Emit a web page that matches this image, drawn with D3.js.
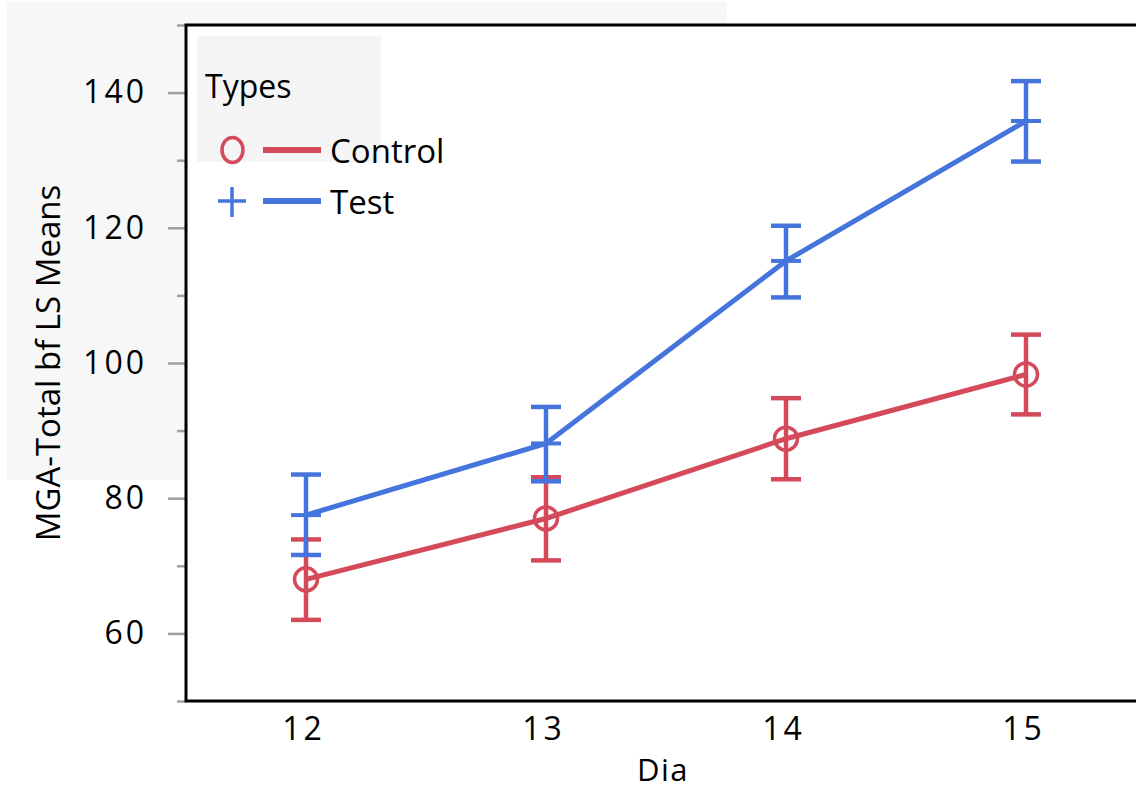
<!DOCTYPE html>
<html><head><meta charset="utf-8">
<script src="https://cdn.jsdelivr.net/npm/d3@7"></script>
<style>body{margin:0;background:#fff;} svg{display:block;} text{font-family:"Open Sans",sans-serif;fill:#000;}</style>
</head><body>
<svg id="chart" width="1136" height="790"></svg>
<script>
const days = [12, 13, 14, 15];
const seriesNames = ["Control", "Test"];
const controlMean = [68.0, 77.0, 88.8, 98.3];
const controlLow  = [62.0, 70.8, 82.8, 92.4];
const controlHigh = [73.9, 83.1, 94.8, 104.2];
const testMean = [77.5, 88.1, 115.1, 135.8];
const testLow  = [71.6, 82.5, 109.7, 129.8];
const testHigh = [83.5, 93.5, 120.3, 141.7];
const yMajorTicks = [60, 80, 100, 120, 140];
const yMinorTicks = [50, 70, 90, 110, 130, 150];
const colors = {Control: "#d44a5a", Test: "#4574dd"};

const svg = d3.select("#chart");
const L = 186, R = 1146, T = 25, B = 701;
const x = d3.scaleLinear().domain([11.5, 15.5]).range([L, R]);
const y = d3.scaleLinear().domain([50, 150]).range([B, T]);

// background panels
svg.append("rect").attr("x", 7).attr("y", 2).attr("width", 720).attr("height", 478).attr("fill", "#f7f7f7");
svg.append("rect").attr("x", L).attr("y", T).attr("width", R - L).attr("height", B - T).attr("fill", "#fff");
svg.append("rect").attr("x", 197).attr("y", 36).attr("width", 184).attr("height", 126).attr("fill", "#f5f5f5");

// y axis ticks
const yMajor = d3.axisLeft(y).tickValues(yMajorTicks).tickSize(18).tickPadding(21).tickFormat(d3.format("d"));
const gy = svg.append("g").attr("transform", `translate(${L},0)`).call(yMajor);
gy.select(".domain").remove();
gy.selectAll(".tick line").attr("stroke", "#a0a0a0").attr("stroke-width", 2.5);
gy.selectAll(".tick text").style("font-size", "32px").style("letter-spacing", "3px").attr("fill", "#000");
const yMinor = d3.axisLeft(y).tickValues(yMinorTicks).tickSize(9).tickFormat("");
const gy2 = svg.append("g").attr("transform", `translate(${L},0)`).call(yMinor);
gy2.select(".domain").remove();
gy2.selectAll(".tick line").attr("stroke", "#a0a0a0").attr("stroke-width", 2.5);

// x axis labels
const gx = svg.append("g").attr("transform", `translate(0,${B})`)
  .call(d3.axisBottom(x).tickValues(days).tickSize(0).tickPadding(16).tickFormat(d3.format("d")));
gx.select(".domain").remove();
gx.selectAll(".tick text").style("font-size", "32px").style("letter-spacing", "3px").attr("dx", "-3px").attr("fill", "#000");

// frame
svg.append("path").attr("d", `M${R},${T}H${L}V${B}H${R}`).attr("fill", "none").attr("stroke", "#000").attr("stroke-width", 3);

// axis titles
svg.append("text").attr("x", 663).attr("y", 781).attr("text-anchor", "middle").style("font-size", "31px").style("letter-spacing", "1.5px").text("Dia");
svg.append("text").attr("transform", `translate(60,${(T + B) / 2}) rotate(-90)`).attr("text-anchor", "middle").style("font-size", "33px").text("MGA-Total bf LS Means");

const data = {
  Control: days.map((d, i) => ({d, m: controlMean[i], lo: controlLow[i], hi: controlHigh[i]})),
  Test: days.map((d, i) => ({d, m: testMean[i], lo: testLow[i], hi: testHigh[i]}))
};
const line = d3.line().x(p => x(p.d)).y(p => y(p.m));
const capW = 15;

seriesNames.forEach(name => {
  const c = colors[name];
  const g = svg.append("g");
  data[name].forEach(p => {
    const px = x(p.d);
    g.append("line").attr("x1", px).attr("x2", px).attr("y1", y(p.hi)).attr("y2", y(p.lo)).attr("stroke", c).attr("stroke-width", 4.5);
    [p.hi, p.lo].forEach(v => g.append("line").attr("x1", px - capW).attr("x2", px + capW).attr("y1", y(v)).attr("y2", y(v)).attr("stroke", c).attr("stroke-width", 4.5));
  });
  g.append("path").datum(data[name]).attr("d", line).attr("fill", "none").attr("stroke", c).attr("stroke-width", 5);
  data[name].forEach(p => {
    const px = x(p.d), py = y(p.m);
    if (name === "Control") {
      g.append("circle").attr("cx", px).attr("cy", py).attr("r", 11.5).attr("fill", "none").attr("stroke", c).attr("stroke-width", 3.5);
    } else {
      g.append("line").attr("x1", px - capW).attr("x2", px + capW).attr("y1", py).attr("y2", py).attr("stroke", c).attr("stroke-width", 4);
    }
  });
});

// legend
svg.append("text").attr("x", 205).attr("y", 98).style("font-size", "32px").text("Types");
const lg = [{name: "Control", y: 150}, {name: "Test", y: 201}];
lg.forEach(o => {
  const c = colors[o.name];
  if (o.name === "Control") {
    svg.append("ellipse").attr("cx", 232.5).attr("cy", o.y).attr("rx", 10.5).attr("ry", 12.5).attr("fill", "none").attr("stroke", c).attr("stroke-width", 3.5);
  } else {
    svg.append("line").attr("x1", 218).attr("x2", 246).attr("y1", o.y).attr("y2", o.y).attr("stroke", c).attr("stroke-width", 3.5);
    svg.append("line").attr("x1", 232).attr("x2", 232).attr("y1", o.y - 14).attr("y2", o.y + 16).attr("stroke", c).attr("stroke-width", 3.5);
  }
  svg.append("line").attr("x1", 263).attr("x2", 321).attr("y1", o.y).attr("y2", o.y).attr("stroke", c).attr("stroke-width", 6);
  svg.append("text").attr("x", 330).attr("y", o.y + 13).style("font-size", "33px").text(o.name);
});
</script>
</body></html>
